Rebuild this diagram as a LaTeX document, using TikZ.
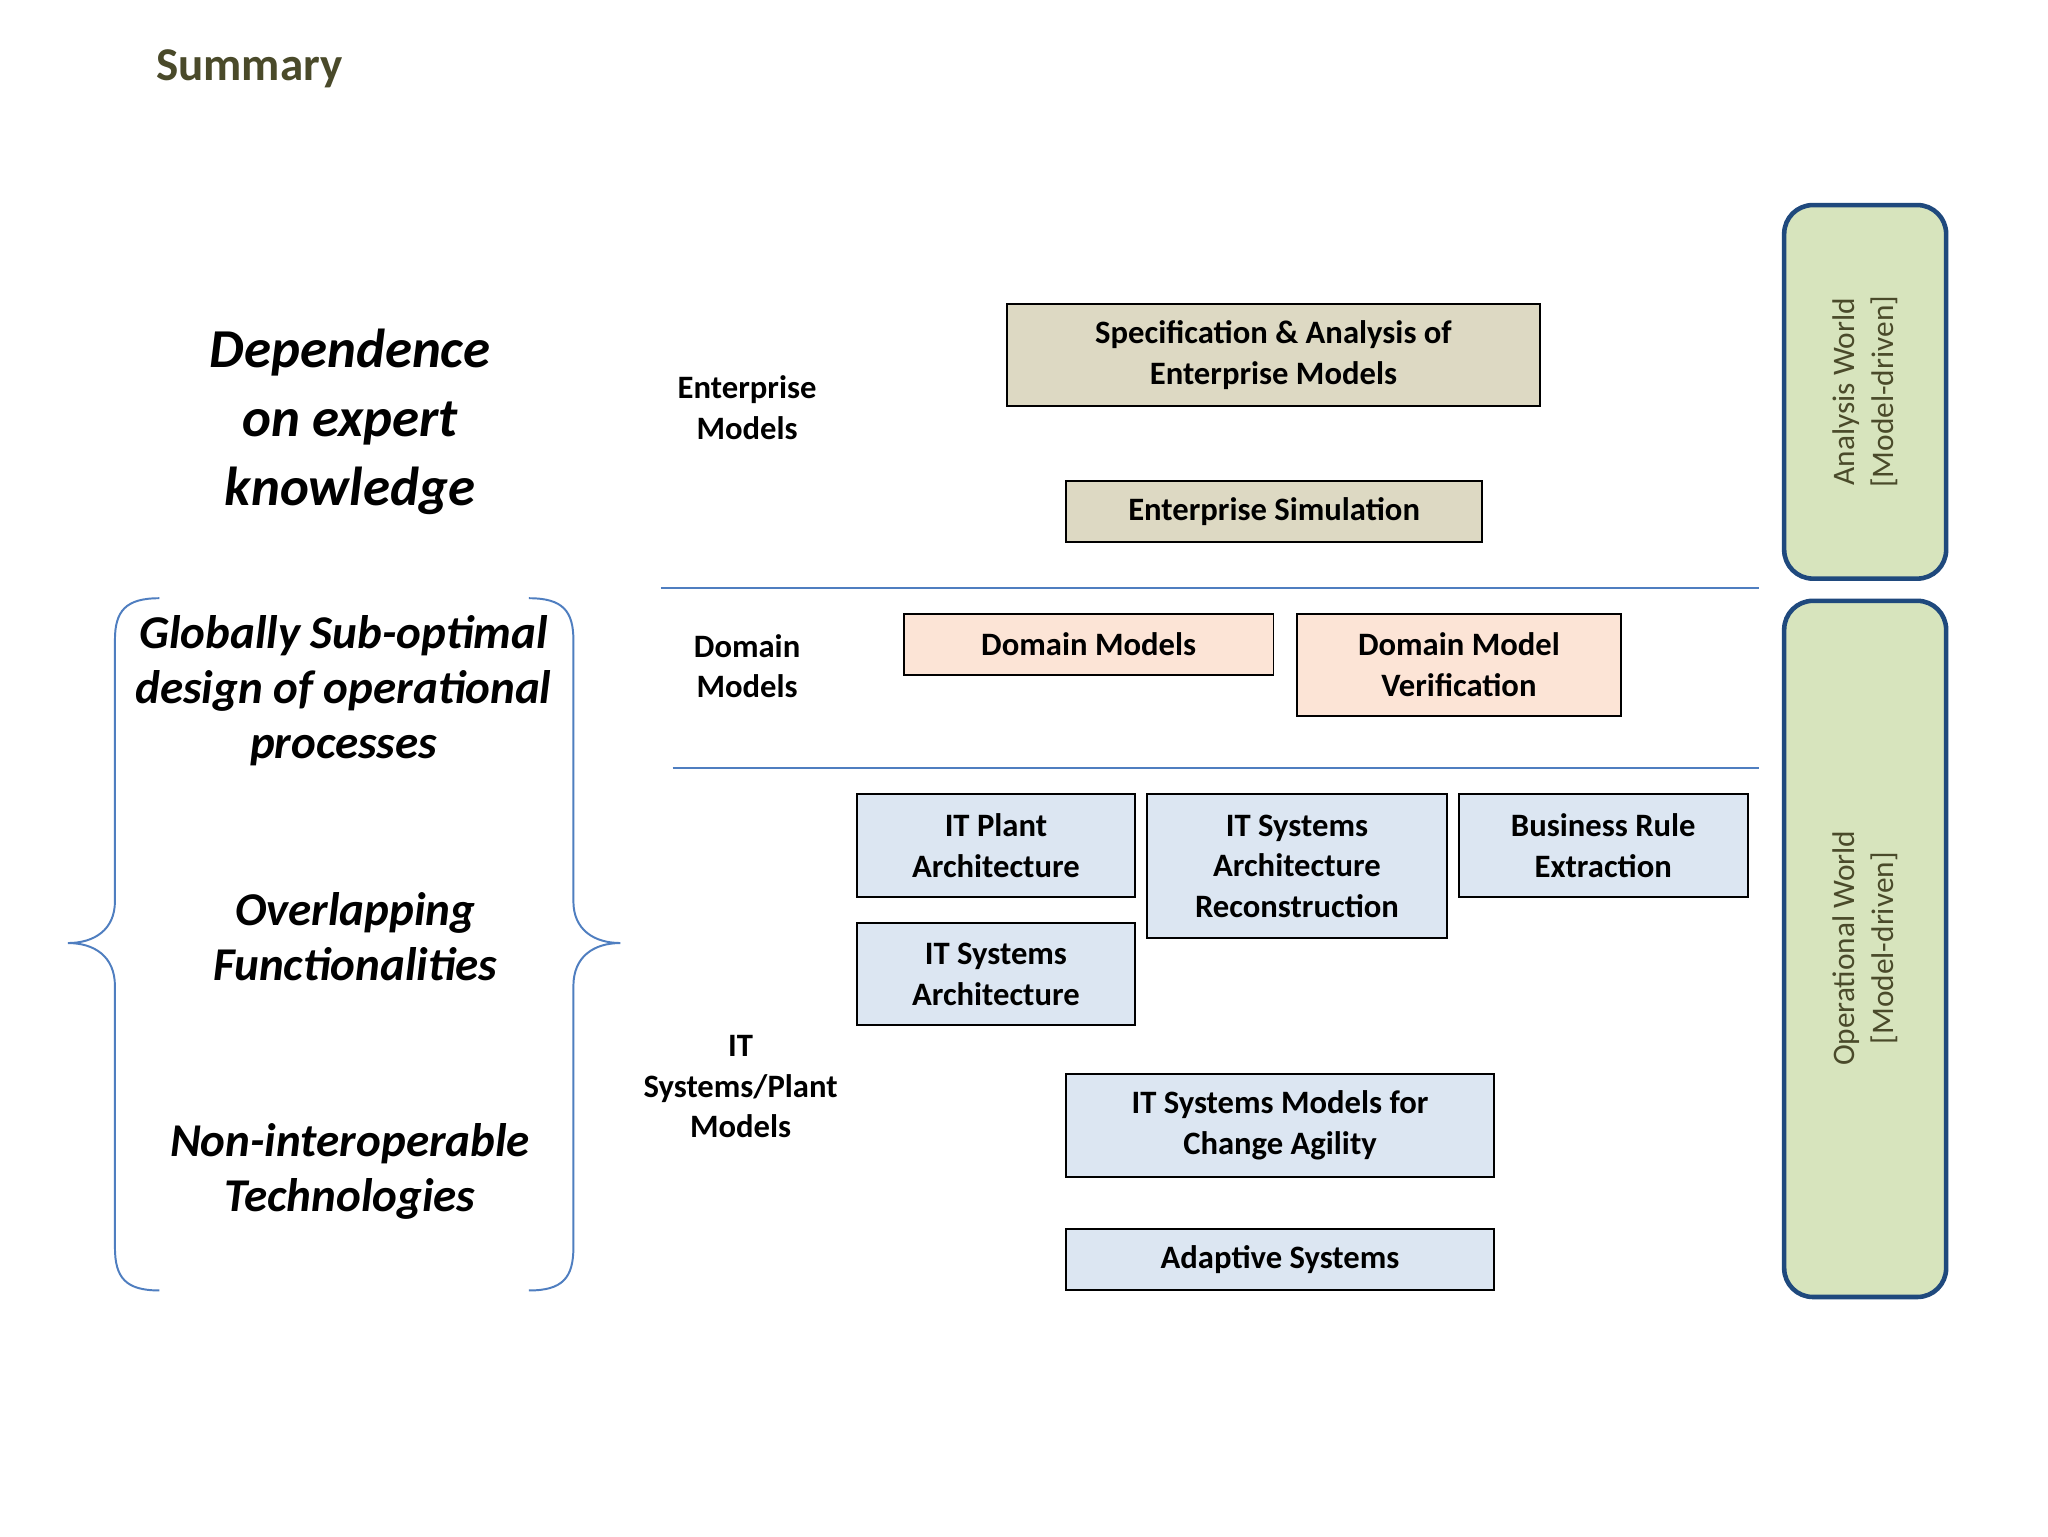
\documentclass[tikz,border=0pt]{standalone}
\usepackage{fontspec}
\setmainfont{Carlito}
\begin{document}
\begin{tikzpicture}[x=1pt,y=-1pt,
  box/.style={draw=black,line width=1.5pt,font=\fontsize{25}{31}\selectfont\bfseries,align=center,inner sep=0pt},
  tan/.style={box,fill=tanc},
  pink/.style={box,fill=pinkc},
  blu/.style={box,fill=bluec},
  lab/.style={font=\fontsize{25}{31}\selectfont\bfseries,align=center},
  big/.style={font=\fontsize{36}{42}\selectfont\bfseries\itshape,align=center},
  world/.style={draw=worldline,line width=3.5pt,fill=greenc,rounded corners=22pt},
  wtext/.style={rotate=90,font=\fontsize{24}{30}\selectfont,text=olive,align=center},
  sep/.style={draw=linec,line width=1.5pt}]
\definecolor{tanc}{HTML}{DDD9C3}
\definecolor{pinkc}{HTML}{FCE4D6}
\definecolor{bluec}{HTML}{DCE6F2}
\definecolor{greenc}{HTML}{D7E4BD}
\definecolor{worldline}{HTML}{1F497D}
\definecolor{linec}{HTML}{4F7EC0}
\definecolor{olive}{HTML}{4A4A2A}
\useasboundingbox[fill=white] (0,0) rectangle (1568,1176);
\node[anchor=west,font=\fontsize{36}{40}\selectfont\bfseries,text=olive] (title) at (116,53) {Summary};
\node[font=\fontsize{42}{53}\selectfont\bfseries\itshape,align=center] (dep) at (268,323) {Dependence\\on expert\\knowledge};
% braces
\draw[linec,line width=1.5pt] (122,458) .. controls (96,458) and (88,468) .. (88,490) -- (88,690) .. controls (88,712) and (72,722) .. (52,722) .. controls (72,722) and (88,732) .. (88,755) -- (88,955) .. controls (88,978) and (96,988) .. (122,988);
\draw[linec,line width=1.5pt] (405,458) .. controls (431,458) and (439,468) .. (439,490) -- (439,690) .. controls (439,712) and (455,722) .. (475,722) .. controls (455,722) and (439,732) .. (439,755) -- (439,955) .. controls (439,978) and (431,988) .. (405,988);
\node[big] (g) at (263,529) {Globally Sub-optimal\\design of operational\\processes};
\node[big] (o) at (272,717) {Overlapping\\Functionalities};
\node[big] (n) at (268,897) {Non-interoperable\\Technologies};
% labels
\node[lab] (el) at (572,312) {Enterprise\\Models};
\node[lab] (dl) at (572,510) {Domain\\Models};
\node[lab] (il) at (567,832) {IT\\Systems/Plant\\Models};
\coordinate (s1a) at (506,450); \coordinate (s1b) at (1347,450);
\coordinate (s2a) at (515,588); \coordinate (s2b) at (1347,588);
\draw[sep] (s1a) -- (s1b);
\draw[sep] (s2a) -- (s2b);
% boxes
\node[tan,minimum width=408pt,minimum height=78pt] (spec) at (975,272) {Specification \& Analysis of\\Enterprise Models};
\node[tan,minimum width=319pt,minimum height=47pt] (sim) at (975.5,391.5) {Enterprise Simulation};
\node[pink,minimum width=283pt,minimum height=47pt] (dm) at (833.5,493.5) {Domain Models};
\node[pink,minimum width=248pt,minimum height=78pt] (dmv) at (1117,509) {Domain Model\\Verification};
\node[blu,minimum width=213pt,minimum height=79pt] (itp) at (762.5,647.5) {IT Plant\\Architecture};
\node[blu,minimum width=230pt,minimum height=110pt] (itr) at (993,663) {IT Systems\\Architecture\\Reconstruction};
\node[blu,minimum width=221pt,minimum height=79pt] (br) at (1227.5,647.5) {Business Rule\\Extraction};
\node[blu,minimum width=213pt,minimum height=78pt] (ita) at (762.5,746) {IT Systems\\Architecture};
\node[blu,minimum width=328pt,minimum height=79pt] (itm) at (980,861.5) {IT Systems Models for\\Change Agility};
\node[blu,minimum width=328pt,minimum height=47pt] (ad) at (980,964.5) {Adaptive Systems};
% worlds
\draw[world] (1366,157) rectangle (1490,443);
\node[wtext] (aw) at (1428,300) {Analysis World\\{[Model-driven]}};
\draw[world] (1366,460) rectangle (1490,993);
\node[wtext] (ow) at (1428,726) {Operational World\\{[Model-driven]}};
\end{tikzpicture}
\end{document}
